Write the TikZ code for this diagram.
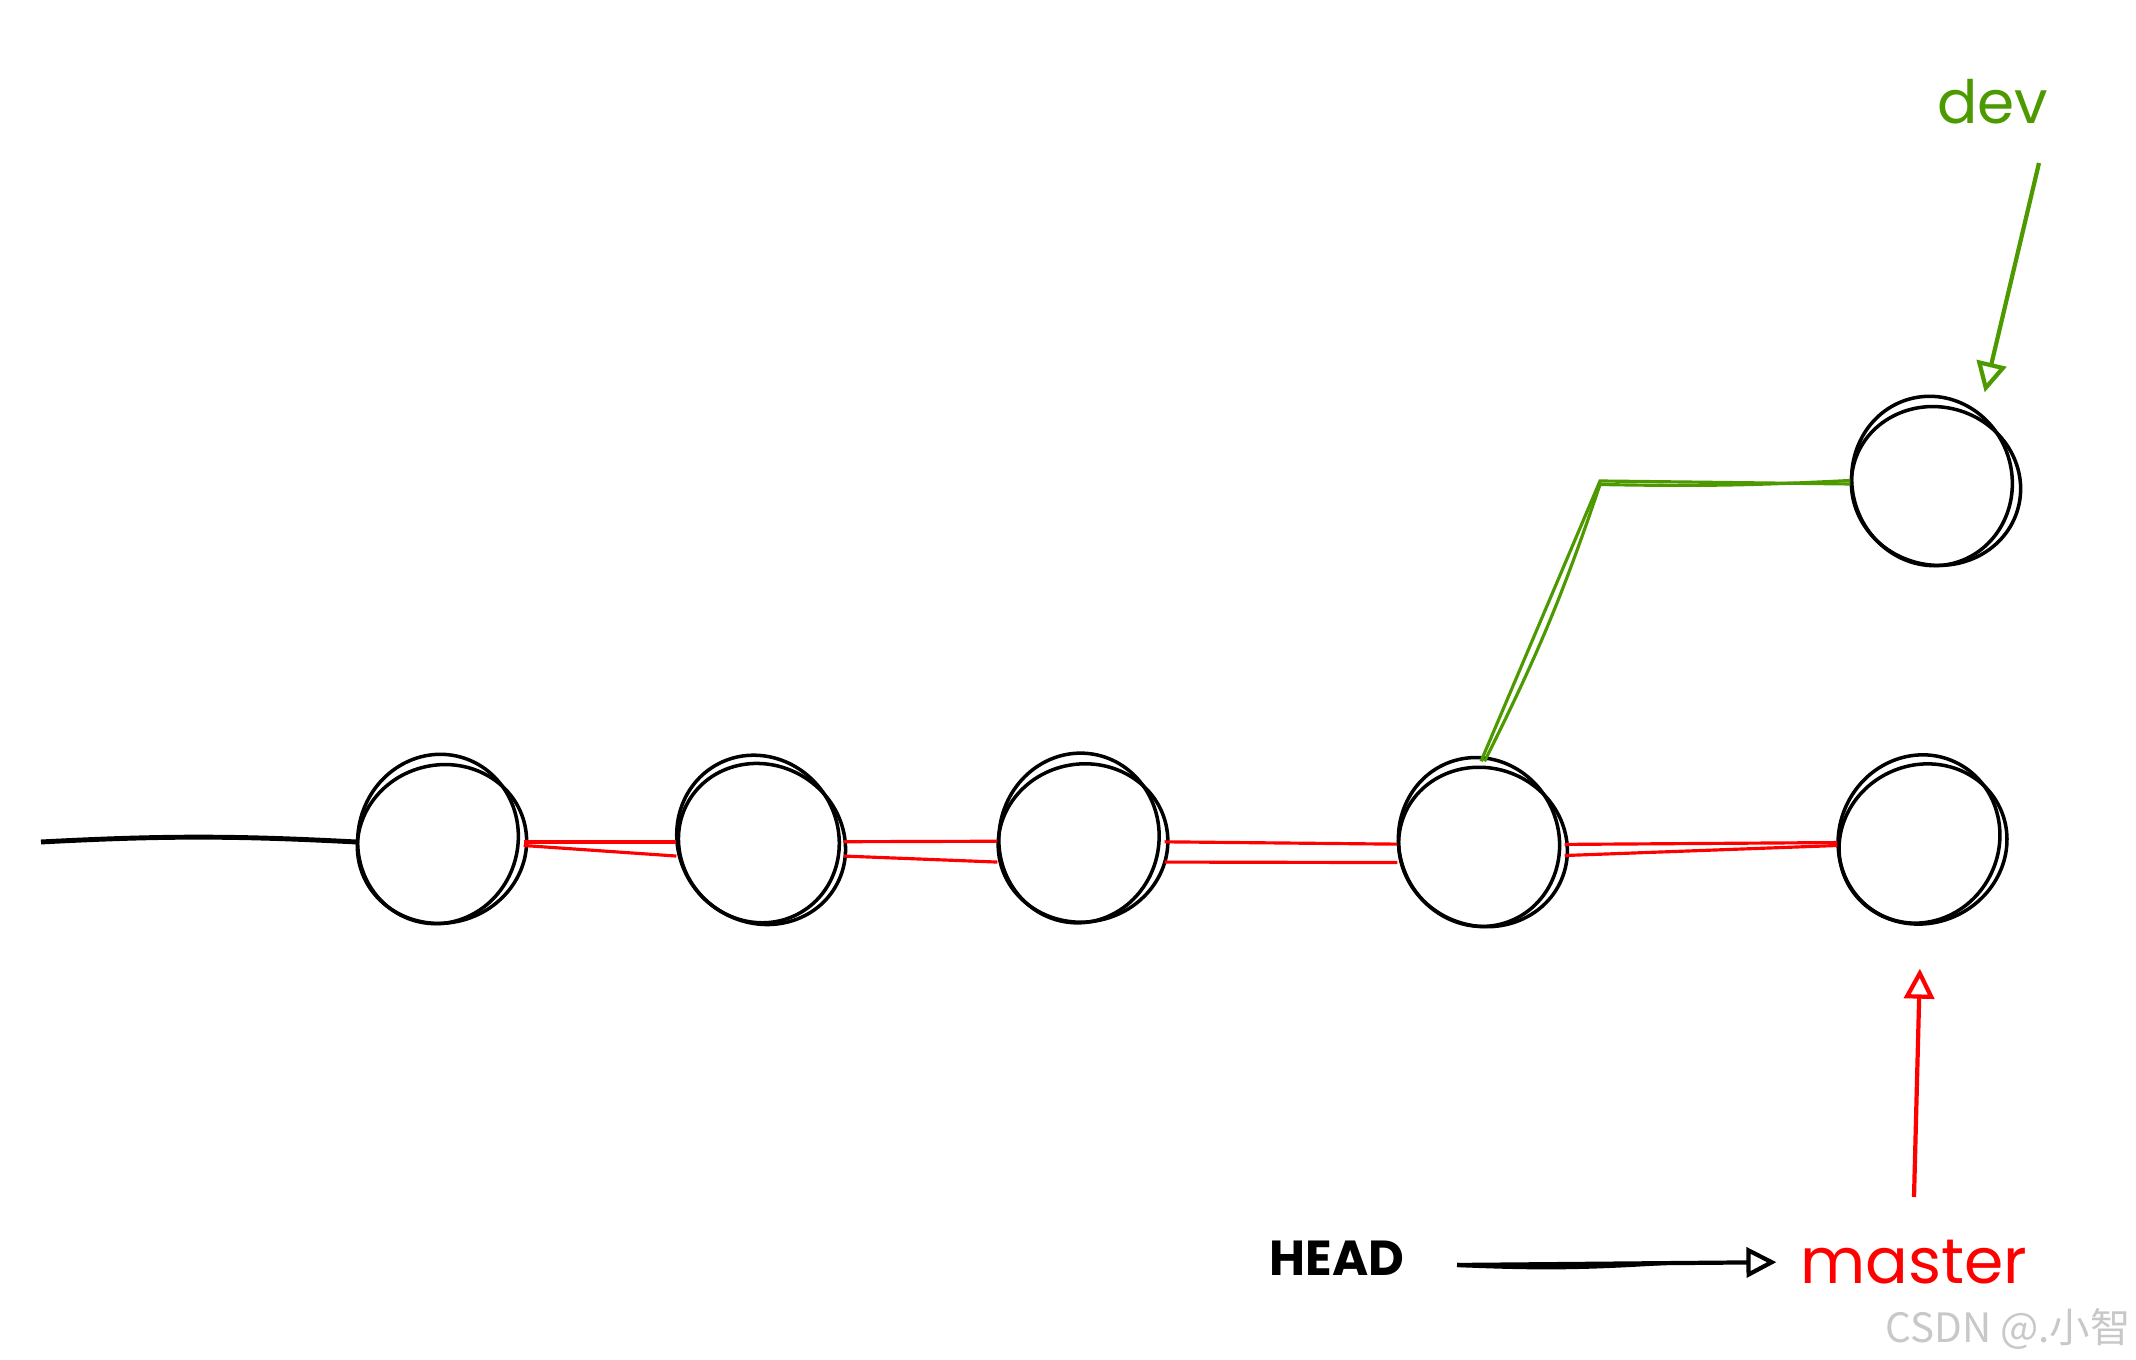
\documentclass[tikz,border=0pt]{standalone}
\usepackage{fontspec}
\setmainfont{Poppins}
\newfontfamily\cjk{Noto Sans CJK SC}
\usetikzlibrary{arrows.meta,calc}
\definecolor{devgreen}{RGB}{77,153,0}
\definecolor{markgray}{RGB}{200,200,200}
\tikzset{
  commit/.style={circle, minimum size=1.66cm, inner sep=0pt},
  sketch/.style={line width=1pt, black},
  redline/.style={line width=0.9pt, red},
  greenline/.style={line width=0.9pt, devgreen},
  pointer/.style={line width=1.2pt, -{Triangle[open, length=0.3cm, width=0.3cm]}},
}
\begin{document}
\begin{tikzpicture}
  \useasboundingbox (0,0) rectangle (21.36,13.6);

  % commits on master
  \node[commit] (c1) at (4.40,5.18) {};
  \node[commit] (c2) at (7.60,5.18) {};
  \node[commit] (c3) at (10.81,5.19) {};
  \node[commit] (c4) at (14.81,5.15) {};
  \node[commit] (c5) at (19.21,5.18) {};
  % commit on dev
  \node[commit] (c6) at (19.34,8.76) {};

  % sketchy outlines, two strokes each
  \foreach \k/\a in {c1/15,c2/-30,c3/10,c4/-20,c5/25,c6/-15}
  {
    \draw[sketch] ($(\k)+(0.02,-0.02)$) circle[x radius=0.85, y radius=0.79, rotate=\a];
    \draw[sketch] ($(\k)+(-0.02,0.03)$) circle[x radius=0.80, y radius=0.85, rotate=-\a];
  }

  % history before the first commit
  \coordinate (root) at (0.41,5.18);
  \draw[line width=1.4pt] (root) to[bend left=3] (c1.west);

  % links on master
  \draw[redline] (c1) -- (c2);
  \draw[redline] ([yshift=-1pt]c1.east) -- ([yshift=-4pt]c2.west);
  \draw[redline] (c2) -- (c3);
  \draw[redline] ([yshift=-4pt]c2.east) -- ([yshift=-6pt]c3.west);
  \draw[redline] (c3) -- (c4);
  \draw[redline] ([yshift=-6pt]c3.east) -- ([yshift=-5pt]c4.west);
  \draw[redline] (c4) -- (c5);
  \draw[redline] ([yshift=-3pt]c4.east) -- ([yshift=-1pt]c5.west);

  % branch dev
  \coordinate (fork) at (16.00,8.79);
  \draw[greenline] (c4.north) -- (fork) -- (c6.west);
  \draw[greenline] ([xshift=1pt]c4.north) to[bend right=4] ([yshift=-1pt]fork)
    to[bend right=2] ([yshift=1pt]c6.west);

  % labels
  \node[text=devgreen, font=\fontsize{17}{17}\selectfont] (dev) at (19.93,12.58) {dev};
  \node[text=red, inner sep=1pt, font=\fontsize{18}{18}\selectfont] (master) at (19.14,0.98) {master};
  \node[font=\bfseries\fontsize{14}{14}\selectfont] (head) at (13.37,1.02) {HEAD};
  \node[text=markgray, inner sep=0pt, font=\cjk\fontsize{11.5}{11.5}\selectfont] (mark) at (20.08,0.31) {CSDN @.小智};

  % pointers
  \coordinate (devtail) at (20.39,11.97);
  \draw[pointer, devgreen, shorten >=0.22cm] (devtail) -- (c6.57);
  \coordinate (mastertail) at (19.14,1.63);
  \draw[pointer, red, shorten >=0.43cm] (mastertail) -- (c5.south);
  \coordinate (headtail) at (14.57,0.95);
  \draw[pointer, shorten >=0.2cm] (headtail) -- (master.west);
  \draw[line width=1.2pt] (headtail) to[bend right=3] ($(headtail)!0.6!(master.west)$);

\end{tikzpicture}
\end{document}
